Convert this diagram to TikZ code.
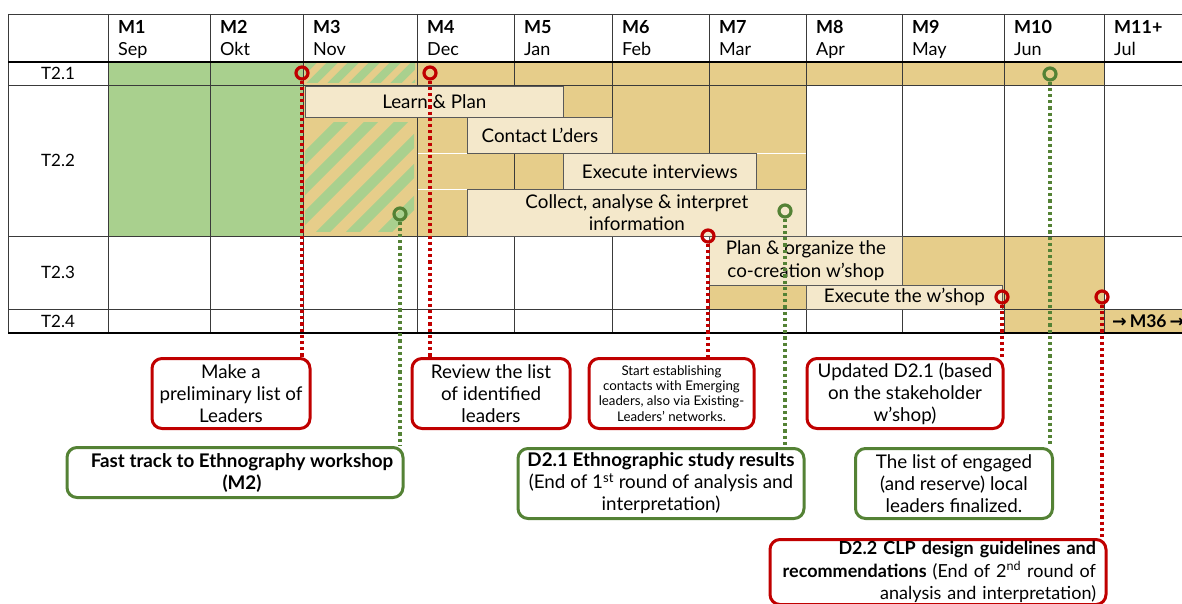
\documentclass[tikz,border=0pt]{standalone}
\usepackage{fontspec}
\setmainfont{Lato}
\newfontfamily\arrowfont{DejaVu Sans}
\usepackage{tikz}
\usetikzlibrary{calc}
\definecolor{wpgreen}{HTML}{A9D08E}
\definecolor{wptan}{HTML}{E6CD8A}
\definecolor{wpcream}{HTML}{F4E8CB}
\definecolor{msred}{HTML}{C00000}
\definecolor{msgreen}{HTML}{548235}
\definecolor{gridgray}{HTML}{3A3A3A}
\tikzset{
  gridline/.style={draw=gridgray,line width=0.9pt},
  headrule/.style={draw=black,line width=2.6pt},
  headlabel/.style={anchor=north west,align=left,inner sep=0pt,font=\fontsize{18}{22}\selectfont},
  rowlabel/.style={inner sep=0pt,font=\fontsize{17}{20}\selectfont},
  taskbar/.style={draw=black!65,line width=0.7pt,fill=wpcream,anchor=north west,inner sep=0pt,
    align=center,font=\fontsize{18.8}{22.5}\selectfont},
  hatchline/.style={draw=wpgreen,line width=10pt},
  redring/.style={circle,draw=msred,line width=3.2pt,minimum size=12pt,inner sep=0pt},
  greenring/.style={circle,draw=msgreen,line width=3.2pt,minimum size=12pt,inner sep=0pt},
  redlink/.style={draw=msred,line width=3.2pt,dash pattern=on 3.2pt off 3pt},
  greenlink/.style={draw=msgreen,line width=3.2pt,dash pattern=on 3.2pt off 3pt},
  callout/.style={line width=3pt,rounded corners=10pt,fill=white,align=center,inner sep=0pt,
    font=\fontsize{18.8}{22}\selectfont},
  redcallout/.style={callout,draw=msred},
  greencallout/.style={callout,draw=msgreen}
}

\begin{document}
\begin{tikzpicture}[x=1pt,y=-1pt]
  \useasboundingbox (0,0) rectangle (1182,604);
  % coloured cells
  \fill[wpgreen] (108,62) rectangle (303,236);
  \fill[wptan] (303,62) rectangle (1104,85);
  \fill[wptan] (303,85) rectangle (806,236);
  \fill[wptan] (709,236) rectangle (1104,309);
  \fill[wptan] (1004,309) rectangle (1182,333);
  \begin{scope}
    \clip (305,64) rectangle (415,83);
    \foreach \s in {374,395,...,500}
      \draw[hatchline,line width=8pt] (\s-100,100) -- (\s-50,50);
  \end{scope}
  \begin{scope}
    \clip (305,123) rectangle (414,231);
    \foreach \s in {463,493,523,555,585,617}
      \draw[hatchline] (\s-250,250) -- (\s-110,110);
  \end{scope}
  \draw[white,line width=0.6pt] (417,153) -- (806,153) (417,189) -- (806,189);
  % grid
  \foreach \x in {8,108,210,303,417,514,612,709,806,902,1004,1104}
    \draw[gridline] (\x,14) -- (\x,333);
  \foreach \y in {14,85,236,309}
    \draw[gridline] (8,\y) -- (1182,\y);
  \draw[headrule] (8,62) -- (1182,62);
  \draw[headrule] (8,333) -- (1182,333);
  % header
  \foreach \m/\mon/\x [count=\i] in {M1/Sep/108,M2/Okt/210,M3/Nov/303,M4/Dec/417,M5/Jan/514,
      M6/Feb/612,M7/Mar/709,M8/Apr/806,M9/May/902,M10/Jun/1004,M11+/Jul/1104}
    \node[headlabel] (hd\i) at (\x+10,20) {\textbf{\m}\\\mon};
  \node[rowlabel] (t21) at (58,73.5) {T2.1};
  \node[rowlabel] (t22) at (58,160) {T2.2};
  \node[rowlabel] (t23) at (58,272) {T2.3};
  \node[rowlabel] (t24) at (58,321) {T2.4};
  % task bars
  \node[taskbar,minimum width=258pt,minimum height=31pt] (learn) at (305,86) {Learn \& Plan};
  \node[taskbar,minimum width=145pt,minimum height=36pt] (contact) at (467,117) {Contact L'ders};
  \node[taskbar,minimum width=193pt,minimum height=36pt] (interv) at (563,153) {Execute interviews};
  \node[taskbar,minimum width=339pt,minimum height=47pt] (collect) at (467,189)
    {Collect, analyse \& interpret\\information};
  \node[taskbar,minimum width=193pt,minimum height=49pt] (plan) at (709,236)
    {Plan \& organize the\\co-creation w'shop};
  \node[taskbar,minimum width=196pt,minimum height=24pt] (wshop) at (806,285) {Execute the w'shop};
  \node[anchor=west,inner sep=0pt,font=\fontsize{17.5}{20}\selectfont\bfseries] (m36) at (1112,321)
    {{\arrowfont →}\,M36\,{\arrowfont →}};
  % milestones
  \node[redring] (r1) at (302,73) {};
  \node[redring] (r2) at (430,73) {};
  \node[redring] (r3) at (708,236) {};
  \node[redring] (r4) at (1002,297) {};
  \node[redring] (r5) at (1102,297) {};
  \node[greenring] (g1) at (400,214) {};
  \node[greenring] (g2) at (785,211) {};
  \node[greenring] (g3) at (1050,74) {};
  % callout positions
  \coordinate (prelimtop) at (231,357);
  \coordinate (reviewtop) at (491,357);
  \coordinate (contactstop) at (671.5,357);
  \coordinate (updatedtop) at (905,357);
  \coordinate (fasttracktop) at (235,446);
  \coordinate (d21top) at (661,447);
  \coordinate (engagedtop) at (954,447);
  \coordinate (d22top) at (938,538);
  % links
  \draw[redlink] (r1) -- (r1 |- prelimtop);
  \draw[redlink] (r2) -- (r2 |- reviewtop);
  \draw[redlink] (r3) -- (r3 |- contactstop);
  \draw[redlink] (r4) -- (r4 |- updatedtop);
  \draw[redlink] (r5) -- (r5 |- d22top);
  \draw[greenlink] (g1) -- (g1 |- fasttracktop);
  \draw[greenlink] (g2) -- (g2 |- d21top);
  \draw[greenlink] (g3) -- (g3 |- engagedtop);
  % callouts
  \node[redcallout,minimum width=158pt,minimum height=70pt,anchor=north] (prelim) at (prelimtop)
    {Make a\\preliminary list of\\Leaders};
  \node[redcallout,minimum width=158pt,minimum height=70pt,anchor=north] (review) at (reviewtop)
    {Review the list\\of identified\\leaders};
  \node[redcallout,minimum width=165pt,minimum height=70pt,anchor=north,
    font=\fontsize{13.3}{15.2}\selectfont] (contacts) at (contactstop)
    {Start establishing\\contacts with Emerging\\leaders, also via Existing-\\Leaders' networks.};
  \node[redcallout,minimum width=196pt,minimum height=70pt,anchor=north] (updated) at (updatedtop)
    {Updated D2.1 (based\\on the stakeholder\\w'shop)};
  \node[greencallout,minimum width=336pt,minimum height=50pt,anchor=north] (fasttrack) at (fasttracktop)
    {\hspace*{14pt}\textbf{Fast track to Ethnography workshop}\\\hspace*{14pt}\textbf{(M2)}};
  \node[greencallout,minimum width=286pt,minimum height=70pt,anchor=north] (d21) at (d21top)
    {\textbf{D2.1 Ethnographic study results}\\(End of 1\textsuperscript{st} round of analysis and\\interpretation)};
  \node[greencallout,minimum width=197pt,minimum height=70pt,anchor=north] (engaged) at (engagedtop)
    {The list of engaged\\(and reserve) local\\leaders finalized.};
  \node[redcallout,minimum width=336pt,minimum height=65pt,anchor=north,text width=316pt,align=right,
    font=\fontsize{18}{22.5}\selectfont] (d22) at (d22top)
    {\textbf{D2.2 CLP design guidelines and}\\\textbf{recommendations} (End of 2\textsuperscript{nd} round of\\analysis and interpretation)};
\end{tikzpicture}
\end{document}
